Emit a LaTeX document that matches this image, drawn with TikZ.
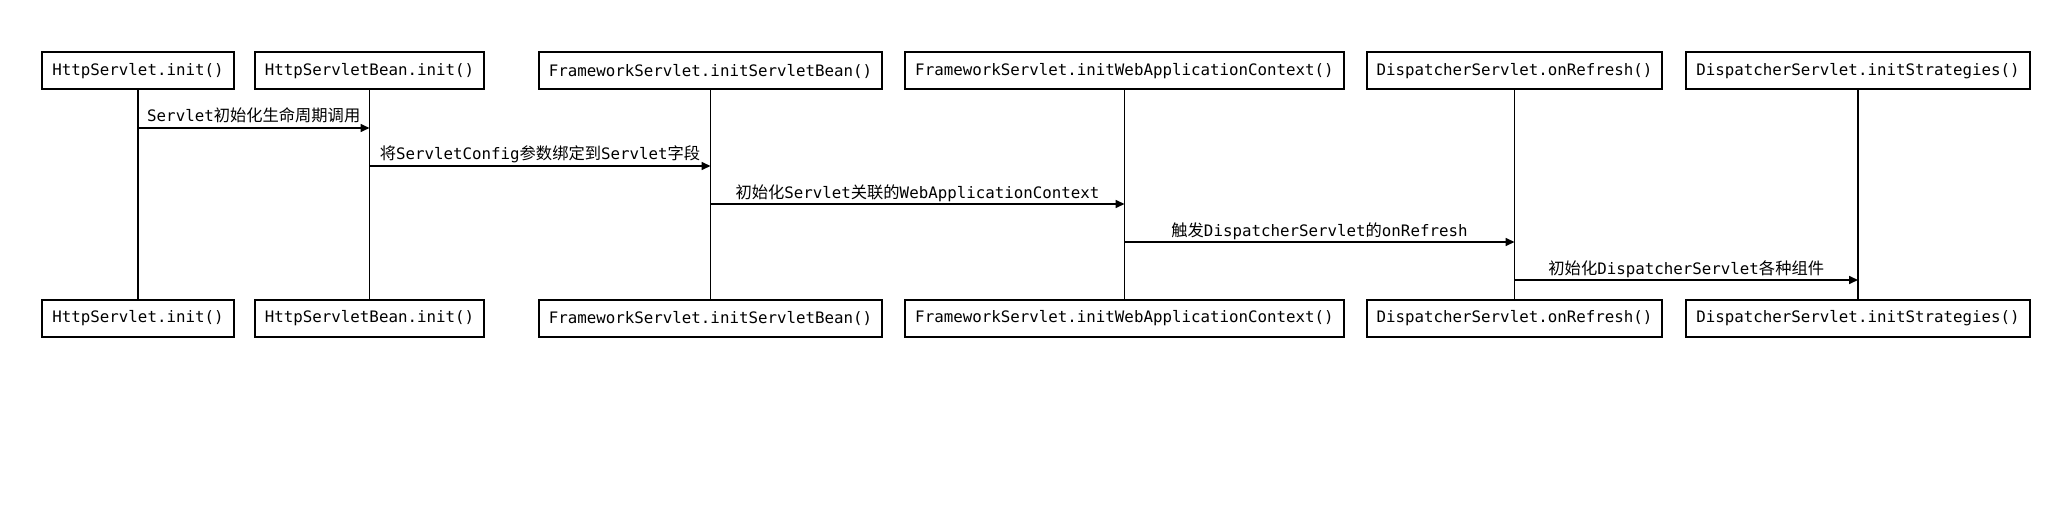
\documentclass[tikz,border=0pt]{standalone}
\usepackage{fontspec}
\setmonofont{DejaVu Sans Mono}
\newfontfamily\zhfont[Scale=1.03]{Noto Sans CJK SC}
\newcommand{\zh}[1]{{\zhfont #1}}
\usetikzlibrary{arrows.meta}

\begin{document}
\begin{tikzpicture}[
        x=1pt, y=-1pt,
        every node/.style={font=\fontsize{15.8}{18}\selectfont\ttfamily},
        actor/.style={draw, line width=2pt, inner xsep=10pt, inner ysep=0pt, minimum height=37pt},
        life/.style={line width=1.7pt},
        msg/.style={line width=1.6pt, -{Triangle[length=9pt, width=8pt]}},
        msglabel/.style={anchor=base, inner sep=0pt, yshift=6pt}
    ]
    \useasboundingbox (0,0) rectangle (2061,516);

    % Participants, top row
    \node[actor] (top1) at (138,71)    {HttpServlet.init()};
    \node[actor] (top2) at (369.5,71)  {HttpServletBean.init()};
    \node[actor] (top3) at (710.5,71)  {FrameworkServlet.initServletBean()};
    \node[actor] (top4) at (1124.5,71) {FrameworkServlet.initWebApplicationContext()};
    \node[actor] (top5) at (1514.5,71) {DispatcherServlet.onRefresh()};
    \node[actor] (top6) at (1858,71)   {DispatcherServlet.initStrategies()};

    % Participants, bottom row
    \node[actor] (bot1) at (138,318.5)    {HttpServlet.init()};
    \node[actor] (bot2) at (369.5,318.5)  {HttpServletBean.init()};
    \node[actor] (bot3) at (710.5,318.5)  {FrameworkServlet.initServletBean()};
    \node[actor] (bot4) at (1124.5,318.5) {FrameworkServlet.initWebApplicationContext()};
    \node[actor] (bot5) at (1514.5,318.5) {DispatcherServlet.onRefresh()};
    \node[actor] (bot6) at (1858,318.5)   {DispatcherServlet.initStrategies()};

    % Lifelines
    \draw[life] (top1.south) -- (bot1.north);
    \draw[life] (top2.south) -- (bot2.north);
    \draw[life] (top3.south) -- (bot3.north);
    \draw[life] (top4.south) -- (bot4.north);
    \draw[life] (top5.south) -- (bot5.north);
    \draw[life] (top6.south) -- (bot6.north);

    % Messages
    \draw[msg] (top1 |- 0,128) -- node[msglabel] {Servlet\zh{初始化生命周期调用}} (top2 |- 0,128);
    \draw[msg] (top2 |- 0,166) -- node[msglabel] {\zh{将}ServletConfig\zh{参数绑定到}Servlet\zh{字段}} (top3 |- 0,166);
    \draw[msg] (top3 |- 0,204) -- node[msglabel] {\zh{初始化}Servlet\zh{关联的}WebApplicationContext} (top4 |- 0,204);
    \draw[msg] (top4 |- 0,242) -- node[msglabel] {\zh{触发}DispatcherServlet\zh{的}onRefresh} (top5 |- 0,242);
    \draw[msg] (top5 |- 0,280) -- node[msglabel] {\zh{初始化}DispatcherServlet\zh{各种组件}} (top6 |- 0,280);

\end{tikzpicture}
\end{document}
